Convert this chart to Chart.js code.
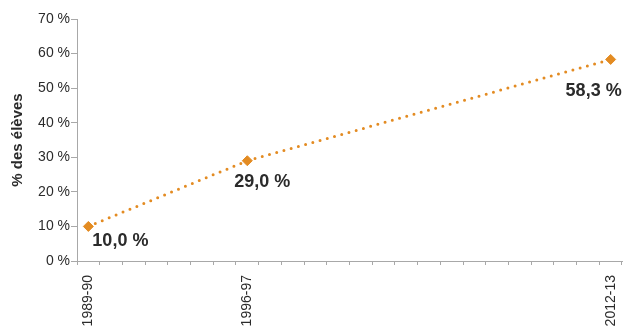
<!DOCTYPE html>
<html>
<head>
<meta charset="utf-8">
<script src="https://cdn.jsdelivr.net/npm/chart.js@4/dist/chart.umd.min.js"></script>
<style>
  html, body { margin: 0; padding: 0; background: #fff; }
  #wrap { width: 624px; height: 328px; }
</style>
</head>
<body>
<div id="wrap"><canvas id="myChart"></canvas></div>
<script>
// school years on the x axis (one slot per year)
const seasons = [
  "1989-90", "1990-91", "1991-92", "1992-93", "1993-94", "1994-95",
  "1995-96", "1996-97", "1997-98", "1998-99", "1999-00", "2000-01",
  "2001-02", "2002-03", "2003-04", "2004-05", "2005-06", "2006-07",
  "2007-08", "2008-09", "2009-10", "2010-11", "2011-12", "2012-13",
];

// measured years and values (% des élèves)
const pointSeasons = ["1989-90", "1996-97", "2012-13"];
const pointValues = [10.0, 29.0, 58.3];

// y ticks
const yTicks = [0, 10, 20, 30, 40, 50, 60, 70];

const orange = "#E38B22";
const textColor = "#2b2b2b";
const axisColor = "#a8a8a8";

const shares = seasons.map((s) => {
  const i = pointSeasons.indexOf(s);
  return i === -1 ? null : pointValues[i];
});

// where each value label sits relative to its point
const labelPlace = {
  "1989-90": { align: "left", dx: 4, dy: 20 },
  "1996-97": { align: "center", dx: 15, dy: 26 },
  "2012-13": { align: "right", dx: 11, dy: 37 },
};

const valueLabels = {
  id: "valueLabels",
  afterDatasetsDraw(chart) {
    const ctx = chart.ctx;
    const meta = chart.getDatasetMeta(0);
    ctx.save();
    ctx.font = "bold 18px 'Liberation Sans', Arial, sans-serif";
    ctx.fillStyle = textColor;
    ctx.textBaseline = "alphabetic";
    meta.data.forEach((pt, i) => {
      const v = shares[i];
      if (v === null) return;
      const p = labelPlace[seasons[i]];
      ctx.textAlign = p.align;
      ctx.fillText(v.toFixed(1).replace(".", ",") + " %", pt.x + p.dx, pt.y + p.dy);
    });
    ctx.restore();
  },
};

const ctx = document.getElementById("myChart");

new Chart(ctx, {
  type: "line",
  data: {
    labels: seasons,
    datasets: [
      {
        data: shares,
        borderColor: orange,
        borderWidth: 3,
        borderDash: [0, 7.5],
        borderCapStyle: "round",
        spanGaps: true,
        clip: false,
        pointStyle: "rectRot",
        pointRadius: 5,
        pointBackgroundColor: orange,
        pointBorderColor: orange,
        pointBorderWidth: 1,
      },
      {
        data: shares,
        showLine: false,
        clip: false,
        pointRadius: 1,
        pointBackgroundColor: "#6a9ccf",
        pointBorderWidth: 0,
      },
    ],
  },
  options: {
    responsive: true,
    maintainAspectRatio: false,
    animation: false,
    layout: { autoPadding: false, padding: { top: 19, right: 2, left: 0, bottom: 0 } },
    plugins: {
      legend: { display: false },
      tooltip: { enabled: false },
    },
    scales: {
      x: {
        type: "category",
        offset: true,
        border: { color: axisColor, width: 1 },
        grid: {
          offset: true,
          drawOnChartArea: false,
          color: axisColor,
          tickLength: 4,
        },
        ticks: {
          autoSkip: false,
          minRotation: 90,
          maxRotation: 90,
          padding: 10,
          color: textColor,
          font: { family: "'Liberation Sans', Arial, sans-serif", size: 14 },
          callback: (v, i) => (pointSeasons.includes(seasons[i]) ? seasons[i] : ""),
        },
        afterFit: (scale) => {
          scale.height = 67;
          scale.paddingLeft = 0;
          scale.paddingRight = 0;
        },
      },
      y: {
        min: 0,
        max: 70,
        border: { color: axisColor, width: 1 },
        grid: {
          drawOnChartArea: false,
          color: axisColor,
          tickLength: 6,
        },
        afterBuildTicks: (scale) => { scale.ticks = yTicks.map((v) => ({ value: v })); },
        ticks: {
          padding: 1,
          color: textColor,
          font: { family: "'Liberation Sans', Arial, sans-serif", size: 14 },
          callback: (v) => v + " %",
        },
        title: {
          display: true,
          text: "% des élèves",
          color: textColor,
          padding: { top: 9, bottom: 4 },
          font: { family: "'Liberation Sans', Arial, sans-serif", size: 15, weight: "bold" },
        },
        afterFit: (scale) => { scale.width = 77; },
      },
    },
  },
  plugins: [valueLabels],
});
</script>
</body>
</html>
